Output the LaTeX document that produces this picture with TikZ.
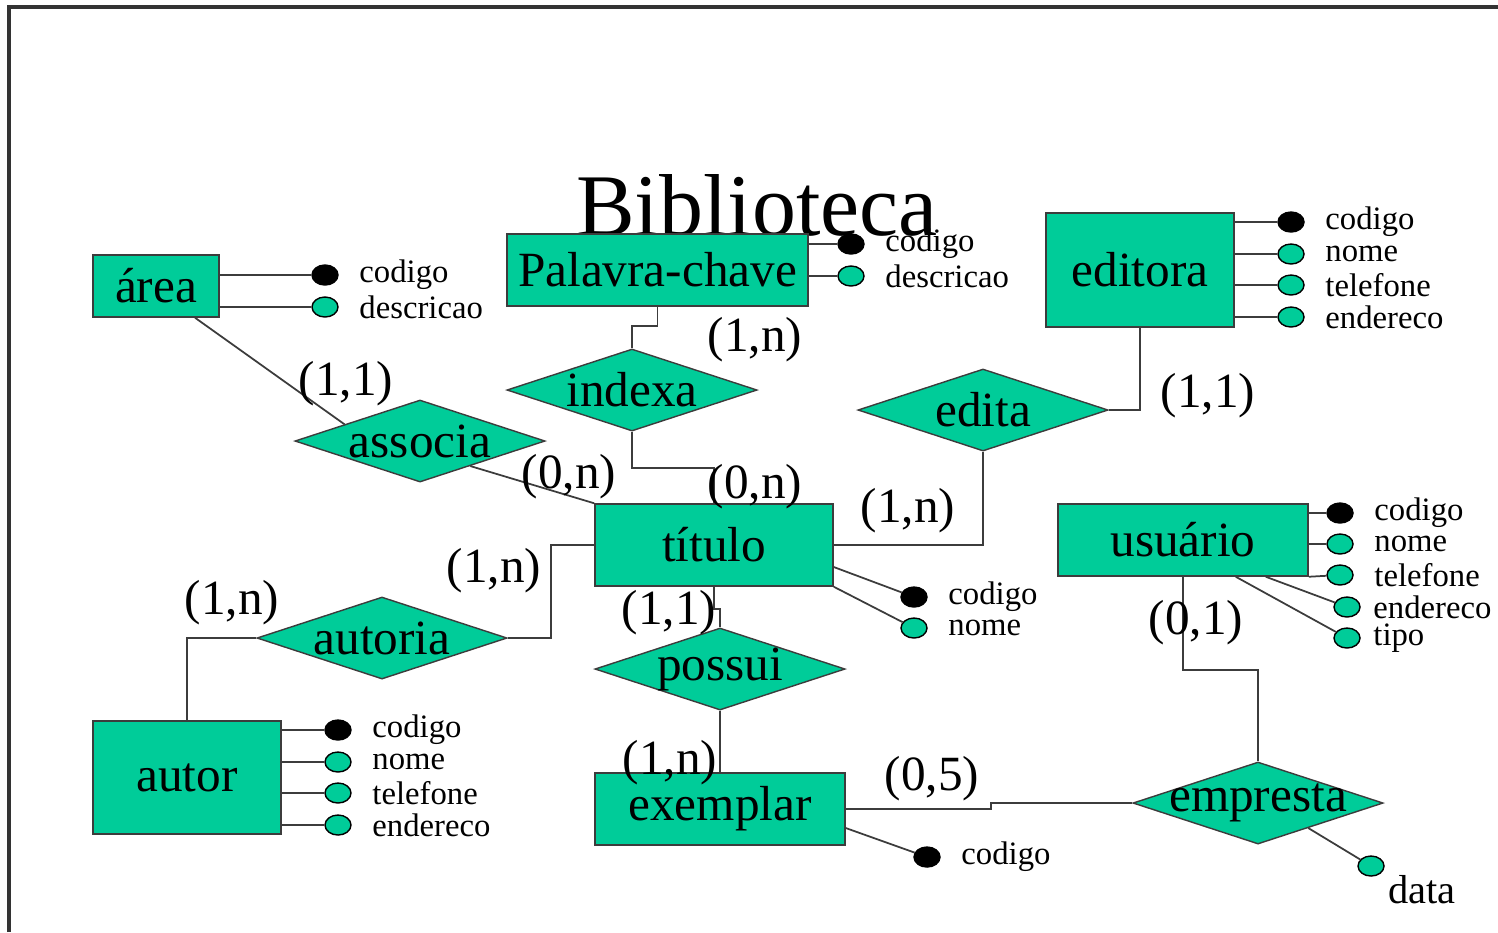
\documentclass[tikz,border=0pt]{standalone}
\usepackage{fontspec}
\setmainfont{Liberation Serif}
\usepackage{tikz}
\usetikzlibrary{shapes.geometric, positioning, calc}
\definecolor{ergreen}{RGB}{0,204,153}
\definecolor{erline}{RGB}{60,60,60}

\begin{document}
\begin{tikzpicture}[
    x=0.01cm, y=-0.01cm,
    entity/.style={rectangle, draw=erline, fill=ergreen, inner sep=0pt, font=\fontsize{14}{16}\selectfont},
    rel/.style={diamond, draw=erline, fill=ergreen, inner sep=0pt, minimum width=2.5cm, minimum height=0.82cm},
    reltxt/.style={font=\fontsize{14}{16}\selectfont, inner sep=0pt},
    card/.style={font=\fontsize{14}{16}\selectfont, inner sep=0pt},
    key/.style={ellipse, draw=black, fill=black, inner sep=0pt, minimum width=0.26cm, minimum height=0.2cm},
    attr/.style={key, fill=ergreen},
    atxt/.style={font=\fontsize{9.3}{11}\selectfont, inner xsep=0.2cm, inner ysep=0pt},
    link/.style={draw=erline, line width=0.5pt}
]
\useasboundingbox (0,0) rectangle (1498,932);

% frame
\draw[line width=0.9pt, black!80] (9,932) -- (9,7) -- (1498,7);

% Title
\node[font=\fontsize{25}{30}\selectfont, inner sep=0pt] (title) at (757,205) {Biblioteca};

% Entities
\node[entity, minimum width=1.26cm, minimum height=0.62cm] (area) at (156,286) {área};
\node[entity, minimum width=3.01cm, minimum height=0.72cm] (palavra) at (657.5,270) {Palavra-chave};
\node[entity, minimum width=1.88cm, minimum height=1.14cm] (editora) at (1140,270) {editora};
\node[entity, minimum width=2.38cm, minimum height=0.82cm] (titulo) at (714,545) {título};
\node[entity, minimum width=2.5cm, minimum height=0.72cm] (usuario) at (1183,540) {usuário};
\node[entity, minimum width=1.88cm, minimum height=1.13cm] (autor) at (187,777.5) {autor};
\node[entity, minimum width=2.5cm, minimum height=0.72cm] (exemplar) at (720,809) {exemplar};

% Relationships
\node[rel, label={[reltxt]center:indexa}] (indexa) at (632,390) {};
\node[rel, label={[reltxt]center:associa}] (associa) at (420,441) {};
\node[rel, label={[reltxt]center:edita}] (edita) at (983,410) {};
\node[rel, label={[reltxt]center:autoria}] (autoria) at (382,638) {};
\node[rel, label={[reltxt]center:possui}] (possui) at (720,669) {};
\node[rel, label={[reltxt]center:empresta}] (empresta) at (1258,803) {};

% Attributes of area
\node[key, label={[atxt]right:codigo}] (ar1) at (325,275) {};
\node[attr, label={[atxt]right:descricao}] (ar2) at (325,307) {};

% Attributes of Palavra-chave
\node[key, label={[atxt]right:codigo}] (pc1) at (851,244) {};
\node[attr, label={[atxt]right:descricao}] (pc2) at (851,276) {};

% Attributes of editora
\node[key, label={[atxt]right:codigo}] (ed1) at (1291,222) {};
\node[attr, label={[atxt]right:nome}] (ed2) at (1291,254) {};
\node[attr, label={[atxt]right:telefone}] (ed3) at (1291,285) {};
\node[attr, label={[atxt]right:endereco}] (ed4) at (1291,317) {};

% Attributes of titulo
\node[key, label={[atxt]right:codigo}] (ti1) at (914,597) {};
\node[attr, label={[atxt]right:nome}] (ti2) at (914,628) {};

% Attributes of usuario
\node[key, label={[atxt]right:codigo}] (us1) at (1340,513) {};
\node[attr, label={[atxt]right:nome}] (us2) at (1340,544) {};
\node[attr, label={[atxt]right:telefone}] (us3) at (1340,575) {};
\node[attr, label={[atxt, inner xsep=0.12cm]right:endereco}] (us4) at (1347,607) {};
\node[attr, label={[atxt, inner xsep=0.12cm]right:tipo}] (us5) at (1347,638) {};

% Attributes of autor
\node[key, label={[atxt]right:codigo}] (au1) at (338,730) {};
\node[attr, label={[atxt]right:nome}] (au2) at (338,762) {};
\node[attr, label={[atxt]right:telefone}] (au3) at (338,793) {};
\node[attr, label={[atxt]right:endereco}] (au4) at (338,825) {};

% Attributes of exemplar / empresta
\node[key, label={[atxt]right:codigo}] (ex1) at (927,857) {};
\node[attr, label={[atxt, font=\fontsize{11.5}{13}\selectfont, inner xsep=0.08cm]below right:data}] (em1) at (1371,866) {};

% Attribute lines
\draw[link] (ar1 -| area.east) -- (ar1);
\draw[link] (ar2 -| area.east) -- (ar2);
\draw[link] (pc1 -| palavra.east) -- (pc1);
\draw[link] (pc2 -| palavra.east) -- (pc2);
\draw[link] (ed1 -| editora.east) -- (ed1);
\draw[link] (ed2 -| editora.east) -- (ed2);
\draw[link] (ed3 -| editora.east) -- (ed3);
\draw[link] (ed4 -| editora.east) -- (ed4);
\draw[link] ([yshift=-0.22cm]titulo.east) -- (ti1);
\draw[link] (titulo.south east) -- (ti2);
\draw[link] (us1 -| usuario.east) -- (us1);
\draw[link] (us2 -| usuario.east) -- (us2);
\draw[link] (usuario.south east) -- (us3);
\draw[link] ([xshift=-0.43cm]usuario.south east) -- (us4);
\draw[link] ([xshift=-0.73cm]usuario.south east) -- (us5);
\draw[link] (au1 -| autor.east) -- (au1);
\draw[link] (au2 -| autor.east) -- (au2);
\draw[link] (au3 -| autor.east) -- (au3);
\draw[link] (au4 -| autor.east) -- (au4);
\draw[link] ([yshift=-0.19cm]exemplar.east) -- (ex1);
\draw[link] ($(empresta.east)!0.6!(empresta.south)$) -- (em1);

% Relationship lines
\draw[link] ([xshift=0.39cm]area.south) -- ($(associa.west)!0.4!(associa.north)$);
\draw[link] ($(associa.east)!0.6!(associa.south)$) -- (titulo.north west);
\draw[link] (palavra.south) -- ++(0,19) -| (indexa.north);
\draw[link] (indexa.south) -- ++(0,36) -| (titulo.north);
\draw[link] (edita.east) -| (editora.south);
\draw[link] (edita.south) |- (titulo.east);
\draw[link] (autoria.east) -- ++(43,0) |- (titulo.west);
\draw[link] (autoria.west) -| (autor.north);
\draw[link] (titulo.south) -- ++(0,22) -| (possui.north);
\draw[link] (possui.south) -- (exemplar.north);
\draw[link] (exemplar.east) -- ++(145,0) |- (empresta.west);
\draw[link] (usuario.south) -- ++(0,93) -| (empresta.north);

% Cardinalities
\node[card] (c1) at (346,384) {(1,1)};
\node[card] (c2) at (569,477) {(0,n)};
\node[card] (c3) at (755,340) {(1,n)};
\node[card] (c4) at (755,487) {(0,n)};
\node[card] (c5) at (1208,396) {(1,1)};
\node[card] (c6) at (908,511) {(1,n)};
\node[card] (c7) at (494,571) {(1,n)};
\node[card] (c8) at (232,603) {(1,n)};
\node[card] (c9) at (669,613) {(1,1)};
\node[card] (c10) at (670,763) {(1,n)};
\node[card] (c11) at (932,779) {(0,5)};
\node[card] (c12) at (1196,623) {(0,1)};

\end{tikzpicture}
\end{document}
